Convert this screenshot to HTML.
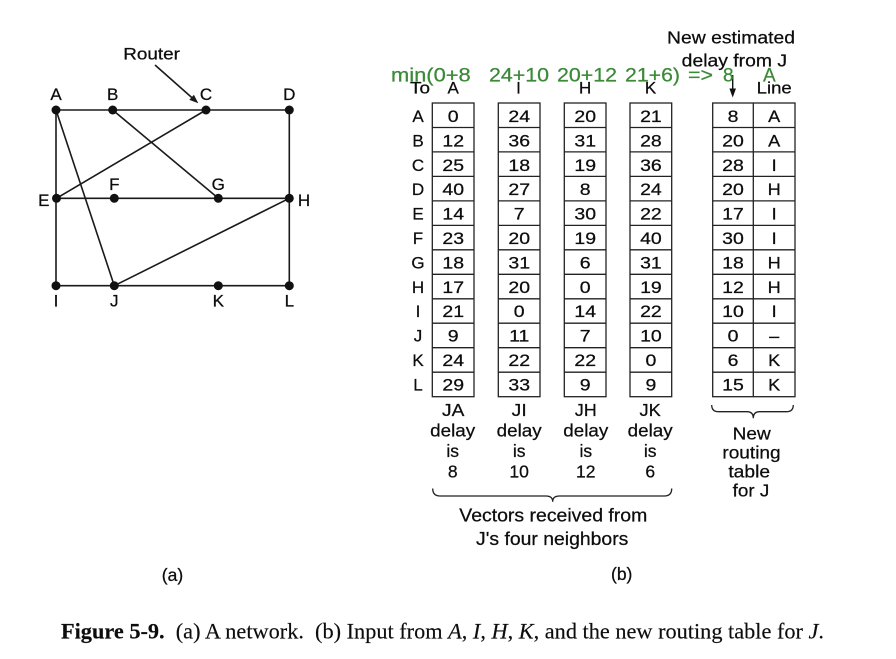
<!DOCTYPE html>
<html><head><meta charset="utf-8"><style>
html,body{margin:0;padding:0;background:#fff;}
svg{display:block;}
text{font-family:"Liberation Sans",Arial,sans-serif;fill:#0d0d0d;stroke:#0d0d0d;stroke-width:0.25px;}
.cap{font-family:"Liberation Serif","Times New Roman",serif;stroke-width:0.15px;}
.g{fill:#3a8a38;stroke:#3a8a38;font-size:19px;}
.n{font-size:16.5px;text-anchor:middle;}
.l{font-size:17px;text-anchor:middle;}
.b{font-size:17.5px;text-anchor:middle;}
</style></head><body>
<svg width="896" height="659" viewBox="0 0 896 659" xmlns="http://www.w3.org/2000/svg">
<rect width="896" height="659" fill="#fff"/>

<!-- (a) network -->
<g stroke="#1a1a1a" stroke-width="1.6" fill="none">
  <line x1="56" y1="110" x2="289.3" y2="110"/>
  <line x1="56" y1="110" x2="56" y2="285.7"/>
  <line x1="289.3" y1="110" x2="289.3" y2="285.7"/>
  <line x1="56" y1="285.7" x2="289.3" y2="285.7"/>
  <line x1="56.5" y1="198.3" x2="289.3" y2="198.3"/>
  <line x1="56" y1="110" x2="114.3" y2="285.7"/>
  <line x1="112.7" y1="110" x2="218.3" y2="198.3"/>
  <line x1="206" y1="110" x2="56.5" y2="198.3"/>
  <line x1="289.3" y1="198.3" x2="114.3" y2="285.7"/>
  <line x1="155" y1="65" x2="193" y2="98.6"/>
</g>
<polygon points="198.3,103.3 189.3,99.9 193.9,94.7" fill="#1a1a1a"/>
<g fill="#111">
  <circle cx="56" cy="110" r="4.5"/><circle cx="112.7" cy="110" r="4.5"/>
  <circle cx="206" cy="110" r="4.5"/><circle cx="289.3" cy="110" r="4.5"/>
  <circle cx="56.5" cy="198.3" r="4.5"/><circle cx="114.3" cy="198.3" r="4.5"/>
  <circle cx="218.3" cy="198.3" r="4.5"/><circle cx="289.3" cy="198.3" r="4.5"/>
  <circle cx="56" cy="285.7" r="4.5"/><circle cx="114.3" cy="285.7" r="4.5"/>
  <circle cx="218.3" cy="285.7" r="4.5"/><circle cx="289.3" cy="285.7" r="4.5"/>
</g>
<text x="151.6" y="59.3" class="l" textLength="56.7" lengthAdjust="spacingAndGlyphs">Router</text>
<text x="56" y="100" class="l">A</text>
<text x="112.7" y="100" class="l">B</text>
<text x="206" y="100" class="l">C</text>
<text x="289.3" y="100" class="l">D</text>
<text x="43.8" y="206" class="l">E</text>
<text x="114.3" y="190" class="l">F</text>
<text x="218.3" y="190" class="l">G</text>
<text x="304" y="206" class="l">H</text>
<text x="56" y="306.7" class="l">I</text>
<text x="114.3" y="306.7" class="l">J</text>
<text x="218.3" y="306.7" class="l">K</text>
<text x="289.3" y="306.7" class="l">L</text>
<text x="172.5" y="581" class="b">(a)</text>

<!-- (b) header -->
<text x="667" y="43.3" font-size="17.5" textLength="128" lengthAdjust="spacingAndGlyphs">New estimated</text>
<text x="681.7" y="66.7" font-size="17.5" textLength="105.3" lengthAdjust="spacingAndGlyphs">delay from J</text>
<text x="420" y="93.3" class="l" textLength="20" lengthAdjust="spacingAndGlyphs">To</text>
<text x="453.2" y="93.3" class="l">A</text>
<text x="518.5" y="93.3" class="l">I</text>
<text x="585.2" y="93.3" class="l">H</text>
<text x="650.5" y="93.3" class="l">K</text>
<text x="774.2" y="93.3" class="l" textLength="35" lengthAdjust="spacingAndGlyphs">Line</text>
<line x1="732.7" y1="75" x2="732.7" y2="90" stroke="#111" stroke-width="1.4"/>
<polygon points="732.7,97.5 729.4,88.5 736,88.5" fill="#111"/>

<!-- green annotation -->
<text class="g" x="391" y="81.7" textLength="79.7" lengthAdjust="spacingAndGlyphs">min(0+8</text>
<text class="g" x="489" y="81.7" textLength="60" lengthAdjust="spacingAndGlyphs">24+10</text>
<text class="g" x="557" y="81.7" textLength="60" lengthAdjust="spacingAndGlyphs">20+12</text>
<text class="g" x="625" y="81.7" textLength="55" lengthAdjust="spacingAndGlyphs">21+6)</text>
<text class="g" x="688" y="81.7" textLength="25" lengthAdjust="spacingAndGlyphs">=&gt;</text>
<text class="g" x="723" y="81.7">8</text>
<text class="g" x="763" y="81.7">A</text>

<!-- boxes -->
<g stroke="#222" stroke-width="1.3" fill="none">
  <rect x="432.3" y="103" width="41.7" height="293.7"/>
  <rect x="498.3" y="103" width="41.7" height="293.7"/>
  <rect x="564.3" y="103" width="41.7" height="293.7"/>
  <rect x="630" y="103" width="41.7" height="293.7"/>
  <rect x="712.7" y="103" width="82.3" height="293.7"/>
  <line x1="753.3" y1="103" x2="753.3" y2="396.7"/>
  <path d="M432.3 127.5H474M432.3 151.9H474M432.3 176.4H474M432.3 200.9H474M432.3 225.4H474M432.3 249.8H474M432.3 274.3H474M432.3 298.8H474M432.3 323.2H474M432.3 347.7H474M432.3 372.2H474"/>
  <path d="M498.3 127.5H540M498.3 151.9H540M498.3 176.4H540M498.3 200.9H540M498.3 225.4H540M498.3 249.8H540M498.3 274.3H540M498.3 298.8H540M498.3 323.2H540M498.3 347.7H540M498.3 372.2H540"/>
  <path d="M564.3 127.5H606M564.3 151.9H606M564.3 176.4H606M564.3 200.9H606M564.3 225.4H606M564.3 249.8H606M564.3 274.3H606M564.3 298.8H606M564.3 323.2H606M564.3 347.7H606M564.3 372.2H606"/>
  <path d="M630 127.5H671.7M630 151.9H671.7M630 176.4H671.7M630 200.9H671.7M630 225.4H671.7M630 249.8H671.7M630 274.3H671.7M630 298.8H671.7M630 323.2H671.7M630 347.7H671.7M630 372.2H671.7"/>
  <path d="M712.7 127.5H795M712.7 151.9H795M712.7 176.4H795M712.7 200.9H795M712.7 225.4H795M712.7 249.8H795M712.7 274.3H795M712.7 298.8H795M712.7 323.2H795M712.7 347.7H795M712.7 372.2H795"/>
</g>

<!-- row labels -->
<g font-size="17" text-anchor="middle">
  <text x="418" y="122">A</text><text x="418" y="146.4">B</text><text x="418" y="170.8">C</text>
  <text x="418" y="195.2">D</text><text x="418" y="219.6">E</text><text x="418" y="244">F</text>
  <text x="418" y="268.4">G</text><text x="418" y="292.8">H</text><text x="418" y="317.2">I</text>
  <text x="418" y="341.6">J</text><text x="418" y="366">K</text><text x="418" y="390.4">L</text>
</g>

<!-- column A -->
<g transform="translate(453.2,0) scale(1.18,1)">
  <text class="n" x="0" y="122">0</text><text class="n" x="0" y="146.4">12</text><text class="n" x="0" y="170.8">25</text>
  <text class="n" x="0" y="195.2">40</text><text class="n" x="0" y="219.6">14</text><text class="n" x="0" y="244">23</text>
  <text class="n" x="0" y="268.4">18</text><text class="n" x="0" y="292.8">17</text><text class="n" x="0" y="317.2">21</text>
  <text class="n" x="0" y="341.6">9</text><text class="n" x="0" y="366">24</text><text class="n" x="0" y="390.4">29</text>
</g>
<!-- column I -->
<g transform="translate(519.2,0) scale(1.18,1)">
  <text class="n" x="0" y="122">24</text><text class="n" x="0" y="146.4">36</text><text class="n" x="0" y="170.8">18</text>
  <text class="n" x="0" y="195.2">27</text><text class="n" x="0" y="219.6">7</text><text class="n" x="0" y="244">20</text>
  <text class="n" x="0" y="268.4">31</text><text class="n" x="0" y="292.8">20</text><text class="n" x="0" y="317.2">0</text>
  <text class="n" x="0" y="341.6">11</text><text class="n" x="0" y="366">22</text><text class="n" x="0" y="390.4">33</text>
</g>
<!-- column H -->
<g transform="translate(585.2,0) scale(1.18,1)">
  <text class="n" x="0" y="122">20</text><text class="n" x="0" y="146.4">31</text><text class="n" x="0" y="170.8">19</text>
  <text class="n" x="0" y="195.2">8</text><text class="n" x="0" y="219.6">30</text><text class="n" x="0" y="244">19</text>
  <text class="n" x="0" y="268.4">6</text><text class="n" x="0" y="292.8">0</text><text class="n" x="0" y="317.2">14</text>
  <text class="n" x="0" y="341.6">7</text><text class="n" x="0" y="366">22</text><text class="n" x="0" y="390.4">9</text>
</g>
<!-- column K -->
<g transform="translate(650.9,0) scale(1.18,1)">
  <text class="n" x="0" y="122">21</text><text class="n" x="0" y="146.4">28</text><text class="n" x="0" y="170.8">36</text>
  <text class="n" x="0" y="195.2">24</text><text class="n" x="0" y="219.6">22</text><text class="n" x="0" y="244">40</text>
  <text class="n" x="0" y="268.4">31</text><text class="n" x="0" y="292.8">19</text><text class="n" x="0" y="317.2">22</text>
  <text class="n" x="0" y="341.6">10</text><text class="n" x="0" y="366">0</text><text class="n" x="0" y="390.4">9</text>
</g>
<!-- new delay -->
<g transform="translate(733,0) scale(1.18,1)">
  <text class="n" x="0" y="122">8</text><text class="n" x="0" y="146.4">20</text><text class="n" x="0" y="170.8">28</text>
  <text class="n" x="0" y="195.2">20</text><text class="n" x="0" y="219.6">17</text><text class="n" x="0" y="244">30</text>
  <text class="n" x="0" y="268.4">18</text><text class="n" x="0" y="292.8">12</text><text class="n" x="0" y="317.2">10</text>
  <text class="n" x="0" y="341.6">0</text><text class="n" x="0" y="366">6</text><text class="n" x="0" y="390.4">15</text>
</g>
<!-- line -->
<g transform="translate(774.2,0) scale(1.1,1)">
  <text class="n" x="0" y="122">A</text><text class="n" x="0" y="146.4">A</text><text class="n" x="0" y="170.8">I</text>
  <text class="n" x="0" y="195.2">H</text><text class="n" x="0" y="219.6">I</text><text class="n" x="0" y="244">I</text>
  <text class="n" x="0" y="268.4">H</text><text class="n" x="0" y="292.8">H</text><text class="n" x="0" y="317.2">I</text>
  <text class="n" x="0" y="341.6">–</text><text class="n" x="0" y="366">K</text><text class="n" x="0" y="390.4">K</text>
</g>

<!-- bottom labels -->
<text class="b" x="453.2" y="416" textLength="22.3" lengthAdjust="spacingAndGlyphs">JA</text>
<text class="b" x="519.2" y="416" textLength="15" lengthAdjust="spacingAndGlyphs">JI</text>
<text class="b" x="585.8" y="416" textLength="21.7" lengthAdjust="spacingAndGlyphs">JH</text>
<text class="b" x="650.2" y="416" textLength="21.3" lengthAdjust="spacingAndGlyphs">JK</text>
<text class="b" x="452.7" y="436.3" textLength="45" lengthAdjust="spacingAndGlyphs">delay</text>
<text class="b" x="519.2" y="436.3" textLength="45" lengthAdjust="spacingAndGlyphs">delay</text>
<text class="b" x="585.8" y="436.3" textLength="45" lengthAdjust="spacingAndGlyphs">delay</text>
<text class="b" x="650.2" y="436.3" textLength="45" lengthAdjust="spacingAndGlyphs">delay</text>
<text class="b" x="452.7" y="456.8">is</text>
<text class="b" x="519.2" y="456.8">is</text>
<text class="b" x="585.8" y="456.8">is</text>
<text class="b" x="650.2" y="456.8">is</text>
<text class="b" x="452.7" y="477.3">8</text>
<text class="b" x="519.2" y="477.3" textLength="19.5" lengthAdjust="spacingAndGlyphs">10</text>
<text class="b" x="585.8" y="477.3" textLength="19.5" lengthAdjust="spacingAndGlyphs">12</text>
<text class="b" x="650.2" y="477.3">6</text>

<g stroke="#222" stroke-width="1.3" fill="none">
  <path d="M432.7 488.5 Q432.7 496 440 496 L546 496 Q552.7 496 552.7 501.7 Q552.7 496 559.4 496 L664.4 496 Q671.7 496 671.7 488.5"/>
  <path d="M711.7 405 Q711.7 411.7 718.5 411.7 L747 411.7 Q753.3 411.7 753.3 418.3 Q753.3 411.7 759.6 411.7 L786.5 411.7 Q793.3 411.7 793.3 405"/>
</g>

<text class="b" x="751.7" y="439.3" textLength="38" lengthAdjust="spacingAndGlyphs">New</text>
<text class="b" x="751.5" y="458.3" textLength="58.3" lengthAdjust="spacingAndGlyphs">routing</text>
<text class="b" x="749.2" y="477.5" textLength="41.7" lengthAdjust="spacingAndGlyphs">table</text>
<text class="b" x="751" y="496.3" textLength="36.7" lengthAdjust="spacingAndGlyphs">for J</text>

<text x="553.3" y="521.7" font-size="18" text-anchor="middle" textLength="188" lengthAdjust="spacingAndGlyphs">Vectors received from</text>
<text x="552.2" y="545" font-size="18" text-anchor="middle" textLength="152.3" lengthAdjust="spacingAndGlyphs">J's four neighbors</text>
<text class="b" x="621.7" y="580">(b)</text>

<!-- caption -->
<text class="cap" x="61" y="638.3" font-size="22" textLength="763" lengthAdjust="spacingAndGlyphs" xml:space="preserve" style="white-space:pre"><tspan font-weight="bold">Figure 5-9.</tspan>  (a) A network.  (b) Input from <tspan font-style="italic">A</tspan>, <tspan font-style="italic">I</tspan>, <tspan font-style="italic">H</tspan>, <tspan font-style="italic">K</tspan>, and the new routing table for <tspan font-style="italic">J</tspan>.</text>
</svg>
</body></html>
